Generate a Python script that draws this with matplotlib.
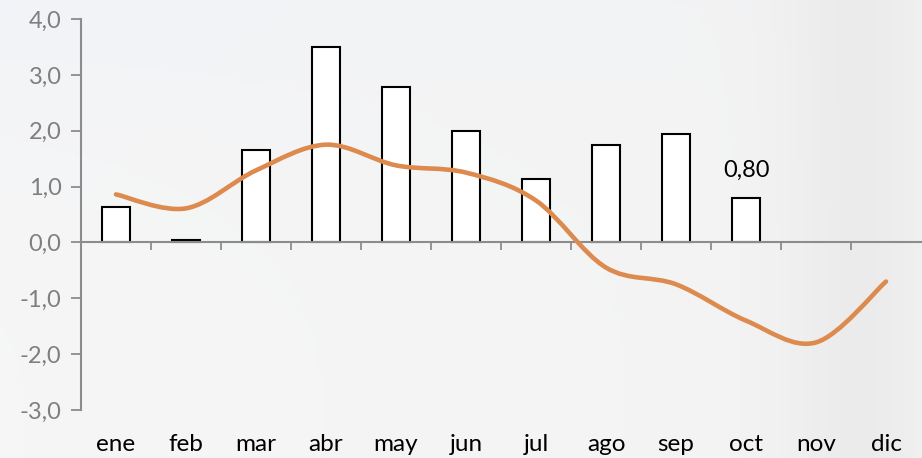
import numpy as np
import matplotlib
matplotlib.use("Agg")
import matplotlib.pyplot as plt
from matplotlib.path import Path
from matplotlib.patches import PathPatch

months = ["ene", "feb", "mar", "abr", "may", "jun", "jul", "ago", "sep", "oct", "nov", "dic"]
bar_values = [0.64, 0.05, 1.65, 3.50, 2.79, 2.00, 1.13, 1.75, 1.95, 0.80, np.nan, np.nan]
line_values = [0.86, 0.61, 1.29, 1.75, 1.38, 1.25, 0.75, -0.45, -0.75, -1.40, -1.79, -0.70]
yticks = [-3, -2, -1, 0, 1, 2, 3, 4]
ytick_labels = ["-3,0", "-2,0", "-1,0", "0,0", "1,0", "2,0", "3,0", "4,0"]
annot_label = "0,80"
annot_index = 9

plt.rcParams['font.family'] = ['Lato', 'DejaVu Sans']

fig = plt.figure(figsize=(9.22, 4.58), dpi=100)

# background gradient
bg = fig.add_axes([0, 0, 1, 1], zorder=-10)
bg.axis("off")
w, h = 200, 100
xx = np.linspace(0, 1, w)
yy = np.linspace(0, 1, h)
X, Y = np.meshgrid(xx, yy)
base = 0.965 - 0.03 * np.exp(-((X - 0.93) / 0.08) ** 2) - 0.012 * X
img = np.dstack([base - 0.02 * (1 - X) * (1 - Y) ** 3,
                 base - 0.012 * (1 - X) * (1 - Y) ** 3,
                 base + 0.005 * (1 - X) * (1 - Y) ** 3])
bg.imshow(np.clip(img, 0, 1), extent=[0, 1, 0, 1], aspect="auto", origin="upper")
bg.set_xlim(0, 1)
bg.set_ylim(0, 1)

ax = fig.add_axes([81 / 922, 48 / 458, 840 / 922, 391 / 458])
ax.patch.set_alpha(0)
x = np.arange(len(months))

ax.bar(x, bar_values, width=0.4, color="white", edgecolor="black", linewidth=1.5, zorder=2)

# Excel-like smoothed line (Catmull-Rom via cubic Bezier)
pts = np.column_stack([x, line_values]).astype(float)
verts = [tuple(pts[0])]
codes = [Path.MOVETO]
n = len(pts)
for i in range(n - 1):
    p0 = pts[i - 1] if i > 0 else pts[i]
    p1 = pts[i]
    p2 = pts[i + 1]
    p3 = pts[i + 2] if i + 2 < n else pts[i + 1]
    c1 = p1 + (p2 - p0) / 6.0
    c2 = p2 - (p3 - p1) / 6.0
    verts += [tuple(c1), tuple(c2), tuple(p2)]
    codes += [Path.CURVE4] * 3
ax.add_patch(PathPatch(Path(verts, codes), facecolor="none", edgecolor="#DD8A4E",
                       linewidth=3.3, capstyle="round", zorder=3))

ax.text(annot_index, bar_values[annot_index] + 0.3, annot_label, ha="center", va="bottom",
        fontsize=17, color="black")

ax.set_xlim(-0.5, len(months) - 0.5)
ax.set_ylim(-3, 4)
ax.set_yticks(yticks)
ax.set_yticklabels(ytick_labels, fontsize=17, color="#7f7f7f")
ax.tick_params(axis="y", length=7, width=1.3, color="#8c8c8c", pad=7, direction="out")

for s in ["top", "right"]:
    ax.spines[s].set_visible(False)
ax.spines["left"].set_color("#8c8c8c")
ax.spines["left"].set_linewidth(1.5)
ax.spines["bottom"].set_position(("data", 0))
ax.spines["bottom"].set_color("#8c8c8c")
ax.spines["bottom"].set_linewidth(1.5)

ax.set_xticks(np.arange(0.5, len(months) - 0.5, 1.0))
ax.set_xticklabels([])
ax.tick_params(axis="x", length=6, width=1.3, color="#8c8c8c", direction="out")

sec = ax.secondary_xaxis("bottom")
sec.set_xticks(x)
sec.set_xticklabels(months, fontsize=17.5, color="black")
sec.tick_params(length=0, pad=17)
sec.spines["bottom"].set_visible(False)

fig.savefig("out.png", dpi=100)
